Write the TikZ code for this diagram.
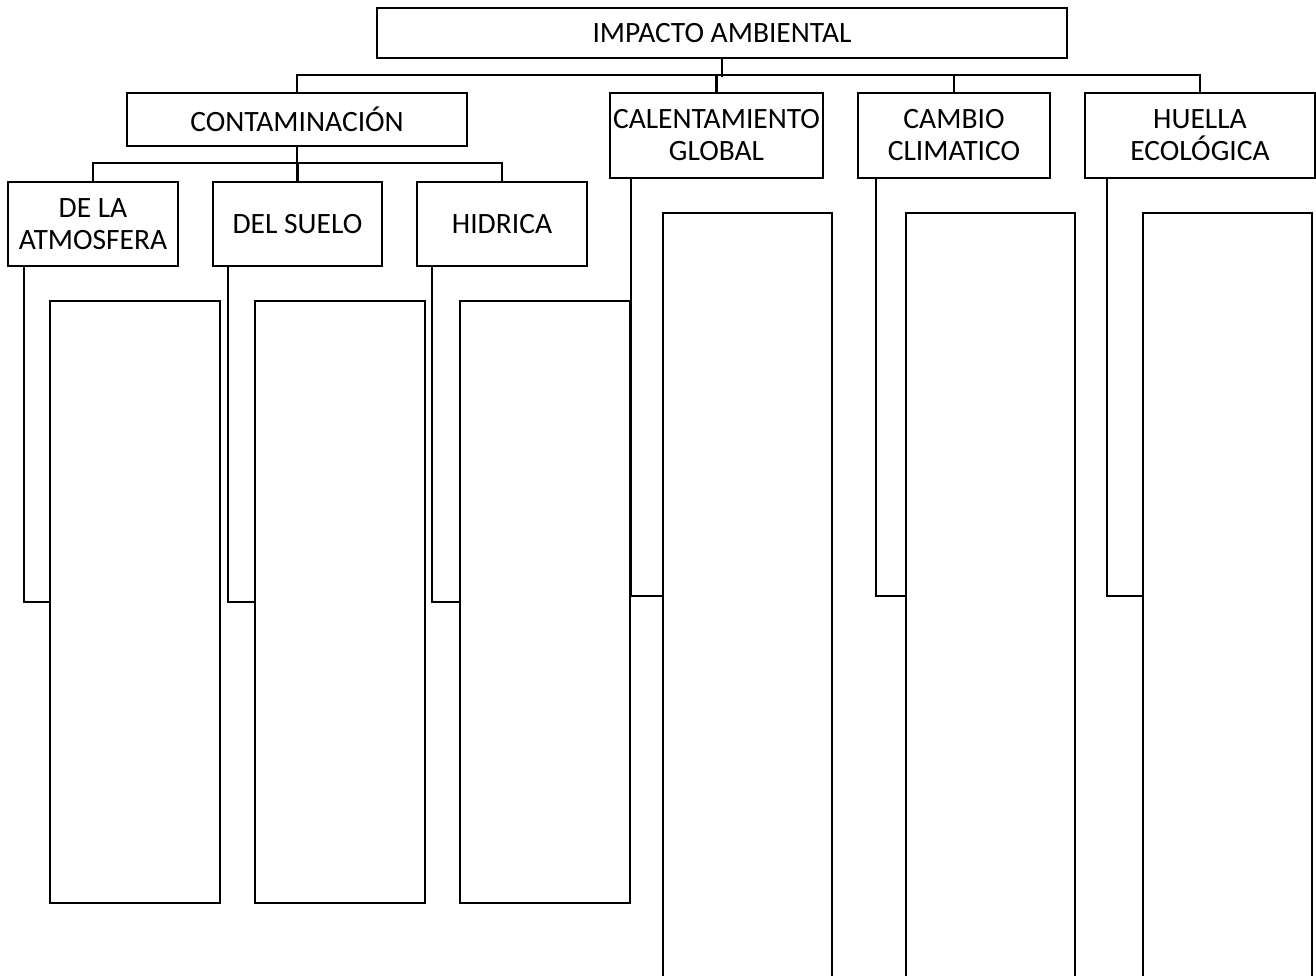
\documentclass[tikz,border=0pt]{standalone}
\usepackage{fontspec}
\setmainfont{Carlito}
\begin{document}
\begin{tikzpicture}[x=1pt,y=-1pt,
    box/.style={draw,line width=2.5pt,inner sep=0pt,align=center,font=\fontsize{29.5}{32}\selectfont},
    col/.style={draw,line width=2.3pt,inner sep=0pt,minimum width=170pt},
    link/.style={line width=2.1pt}]
    \useasboundingbox (0,0) rectangle (1316,976);
    \clip (0,0) rectangle (1316,976);
    % first and second level
    \node[box,minimum width=690pt,minimum height=50pt] (imp) at (722,33) {IMPACTO AMBIENTAL};
    \node[box,minimum width=340pt,minimum height=53pt] (contam) at (297,119.5) {CONTAMINACIÓN};
    \node[box,minimum width=213pt,minimum height=85pt] (calent) at (716.5,135.5) {CALENTAMIENTO\\GLOBAL};
    \node[box,minimum width=192pt,minimum height=85pt] (cambio) at (954,135.5) {CAMBIO\\CLIMATICO};
    \node[box,minimum width=230pt,minimum height=85pt] (huella) at (1200,135.5) {HUELLA\\ECOLÓGICA};
    % third level
    \node[box,minimum width=170pt,minimum height=84pt] (atm) at (93,224) {DE LA\\ATMOSFERA};
    \node[box,minimum width=169pt,minimum height=84pt] (suelo) at (297.5,224) {DEL SUELO};
    \node[box,minimum width=170pt,minimum height=84pt] (hidr) at (502,224) {HIDRICA};
    % empty columns
    \node[col,minimum height=602pt] (atmcol) at (135,602) {};
    \node[col,minimum height=602pt] (suelocol) at (340,602) {};
    \node[col,minimum height=602pt] (hidrcol) at (545,602) {};
    \node[col,minimum width=169pt,minimum height=766pt] (calcol) at (747.5,596) {};
    \node[col,minimum width=169pt,minimum height=766pt] (cambcol) at (990.5,596) {};
    \node[col,minimum width=169pt,minimum height=766pt] (huecol) at (1227.5,596) {};
    % connectors
    \draw[link] (imp.south) -- ++(0,18);
    \draw[link] (contam.north) -- ++(0,-17) -| (huella.north);
    \draw[link] (calent.north) -- ++(0,-17);
    \draw[link] (cambio.north) -- ++(0,-17);
    \draw[link] (contam.south) -- ++(0,18);
    \draw[link] (atm.north) -- ++(0,-18) -| (hidr.north);
    \draw[link] (suelo.north) -- ++(0,-18);
    \draw[link] ([xshift=17pt]atm.south west) |- (atmcol.west);
    \draw[link] ([xshift=16pt]suelo.south west) |- (suelocol.west);
    \draw[link] ([xshift=16pt]hidr.south west) |- (hidrcol.west);
    \draw[link] ([xshift=22pt]calent.south west) |- (calcol.west);
    \draw[link] ([xshift=19pt]cambio.south west) |- (cambcol.west);
    \draw[link] ([xshift=23pt]huella.south west) |- (huecol.west);
\end{tikzpicture}
\end{document}
